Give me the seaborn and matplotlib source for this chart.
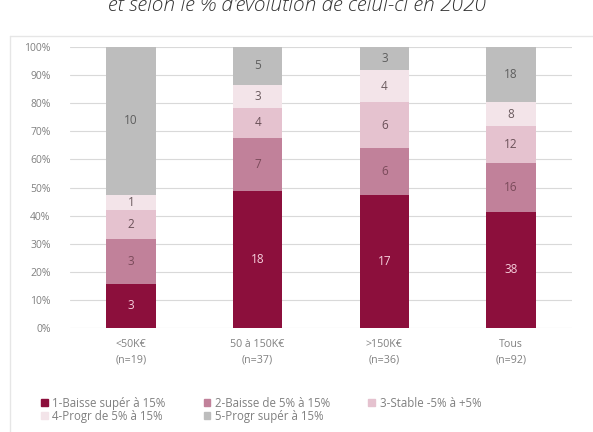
import matplotlib
matplotlib.use("Agg")
import matplotlib.pyplot as plt
import matplotlib.patches as mpatches
import seaborn as sns
import numpy as np
import pandas as pd

categories = ["<50K€\n(n=19)", "50 à 150K€\n(n=37)", ">150K€\n(n=36)", "Tous\n(n=92)"]
series_names = ["1-Baisse supér à 15%", "2-Baisse de 5% à 15%", "3-Stable -5% à +5%",
                "4-Progr de 5% à 15%", "5-Progr supér à 15%"]
baisse_sup15 = [3, 18, 17, 38]
baisse_5_15 = [3, 7, 6, 16]
stable = [2, 4, 6, 12]
progr_5_15 = [1, 3, 4, 8]
progr_sup15 = [10, 5, 3, 18]
colors = ["#8C0F3C", "#C1819A", "#E5C2CF", "#F3E4E9", "#BDBDBD"]
label_colors = ["#F6CFDC", "#7A4A5A", "#6A5058", "#6A5A5E", "#5E5E5E"]
title = "et selon le % d'évolution de celui-ci en 2020"

sns.set_theme(style="white")
plt.rcParams['font.family'] = ['Open Sans', 'DejaVu Sans']

counts = np.array([baisse_sup15, baisse_5_15, stable, progr_5_15, progr_sup15], dtype=float)
totals = counts.sum(axis=0)
pct = counts / totals * 100
cum = np.cumsum(pct, axis=0)

fig = plt.figure(figsize=(5.93, 4.32), dpi=100)
ax = fig.add_axes([70/593, 1 - 328/432, (572-70)/593, (328-47)/432])

for i in range(len(series_names) - 1, -1, -1):
    df = pd.DataFrame({"cat": categories, "val": cum[i]})
    sns.barplot(data=df, x="cat", y="val", color=colors[i], width=0.39,
                saturation=1, ax=ax, zorder=2, linewidth=0, order=categories)

for i in range(len(series_names)):
    for j in range(len(categories)):
        mid = cum[i][j] - pct[i][j] / 2
        ax.text(j, mid, f"{int(counts[i][j])}", ha="center", va="center",
                fontsize=8.5, color=label_colors[i], zorder=3)

ax.set_xlim(-0.48, 3.48)
ax.set_ylim(0, 100)
ax.set_yticks(np.arange(0, 101, 10))
ax.set_yticklabels([f"{v}%" for v in range(0, 101, 10)])
ax.yaxis.grid(True, color="#D9D9D9", linewidth=0.8, zorder=0)
ax.set_axisbelow(True)
ax.set_xlabel("")
ax.set_ylabel("")
for s in ax.spines.values():
    s.set_visible(False)
ax.tick_params(axis="y", length=0, pad=14, labelsize=7.5, labelcolor="#808080")
ax.tick_params(axis="x", length=0, pad=8, labelsize=7.7, labelcolor="#808080")
for t in ax.get_xticklabels():
    t.set_linespacing(1.5)

handles = [mpatches.Patch(color=colors[i], label=series_names[i]) for i in range(5)]
order = [0, 3, 1, 4, 2]
fig.legend(handles=[handles[k] for k in order], loc="upper left",
           bbox_to_anchor=(36/593, 1 - 392/432),
           ncol=3, frameon=False, fontsize=8.3, labelcolor="#808080",
           handlelength=0.6, handleheight=0.6, handletextpad=0.4,
           columnspacing=3.3, labelspacing=0.0, borderaxespad=0)

fig.text(0.5, 1 - 11/432, title, ha="center", va="baseline", fontsize=15,
         style="italic", color="#333333", fontweight="light")

fig.add_artist(plt.Line2D([10/593, 10/593], [0, 1 - 36/432], color="#E6E6E6", lw=1))
fig.add_artist(plt.Line2D([10/593, 1], [1 - 36/432, 1 - 36/432], color="#E6E6E6", lw=1))

fig.savefig("out.png", dpi=100)
